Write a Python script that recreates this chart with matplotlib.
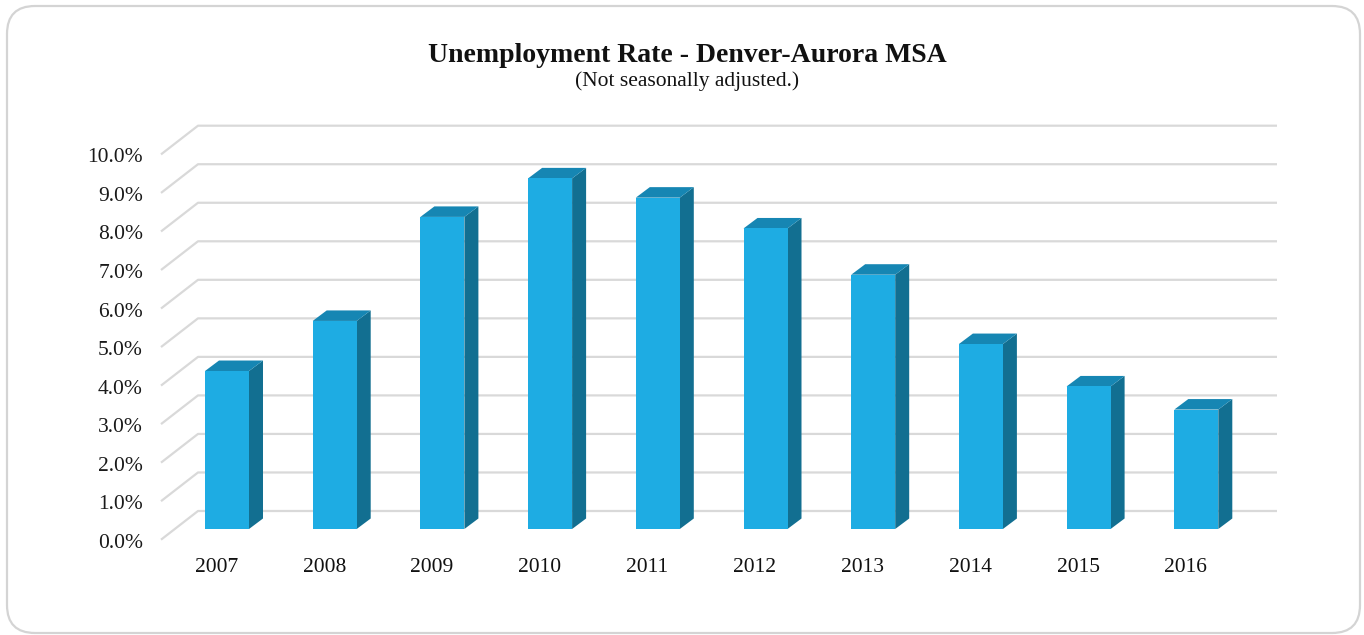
import matplotlib
matplotlib.use('Agg')
import matplotlib.pyplot as plt
from matplotlib.patches import Polygon, FancyBboxPatch
from matplotlib.transforms import IdentityTransform

# Unemployment rate, Denver-Aurora MSA
years = ['2007', '2008', '2009', '2010', '2011', '2012', '2013', '2014', '2015', '2016']
rates = [4.1, 5.4, 8.1, 9.1, 8.6, 7.8, 6.6, 4.8, 3.7, 3.1]
yticks = [0, 1, 2, 3, 4, 5, 6, 7, 8, 9, 10]

FRONT = '#1eace3'
SIDE = '#126f91'
TOP = '#1686b3'
GRID = '#d9d9d9'

W, H = 1364, 635
# pixel anchors: first bar centre, pixels per category, baseline, pixels per 1%
X0, DX_PX, Y0, DY_PX = 227, 107.7, 529, 38.53

fig = plt.figure(figsize=(W / 100, H / 100), dpi=100)
ax = fig.add_axes([0, 0, 1, 1])
ax.set_xlim((0 - X0) / DX_PX, (W - X0) / DX_PX)
ax.set_ylim((Y0 - H) / DY_PX, Y0 / DY_PX)
ax.axis('off')

# frame
frame = FancyBboxPatch((7, H - 633), 1353, 627, boxstyle='round,pad=0,rounding_size=28',
                       transform=IdentityTransform(), facecolor='none', edgecolor='#d4d4d4',
                       linewidth=1.6, zorder=10)
fig.patches.append(frame)

# 3d geometry in data units
wall_x0 = (198 - X0) / DX_PX
wall_x1 = (1277 - X0) / DX_PX
wall_dy = (Y0 - 511) / DY_PX
diag_dx = 37 / DX_PX
diag_dy = 28.7 / DY_PX
bar_w = 44 / DX_PX
dep_x = 14 / DX_PX
dep_y = 10.5 / DY_PX

# gridlines: back wall + diagonal on the side wall
for v in yticks:
    yb = v + wall_dy
    ax.plot([wall_x0 - diag_dx, wall_x0, wall_x1], [yb - diag_dy, yb, yb],
            color=GRID, linewidth=1.6, zorder=1, solid_capstyle='butt')
    ax.text(wall_x0 - diag_dx - 18 / DX_PX, yb - diag_dy - 8 / DY_PX, f'{v:.1f}%',
            ha='right', va='baseline', fontsize=15.5, family='Liberation Serif', color='#1a1a1a')

xs = list(range(len(years)))
ax.bar(xs, rates, width=bar_w, color=FRONT, zorder=3, linewidth=0)
for x, v in zip(xs, rates):
    r = x + bar_w / 2
    l = x - bar_w / 2
    ax.add_patch(Polygon([(r, 0), (r + dep_x, dep_y), (r + dep_x, v + dep_y), (r, v)],
                         closed=True, facecolor=SIDE, edgecolor='none', zorder=2))
    ax.add_patch(Polygon([(l, v), (r, v), (r + dep_x, v + dep_y), (l + dep_x, v + dep_y)],
                         closed=True, facecolor=TOP, edgecolor='none', zorder=2))
    ax.text(x - 10.5 / DX_PX, (Y0 - 572) / DY_PX, years[x], ha='center', va='baseline',
            fontsize=15.5, family='Liberation Serif', color='#111111')

fig.text(687 / W, 1 - 62 / H, 'Unemployment Rate - Denver-Aurora MSA', ha='center', va='baseline',
         fontsize=20, fontweight='bold', family='Liberation Serif', color='#111111')
fig.text(687 / W, 1 - 81 / H, '(Not seasonally adjusted.)', ha='center', va='center',
         fontsize=15.5, family='Liberation Serif', color='#111111')

fig.savefig('out.png', dpi=100)
